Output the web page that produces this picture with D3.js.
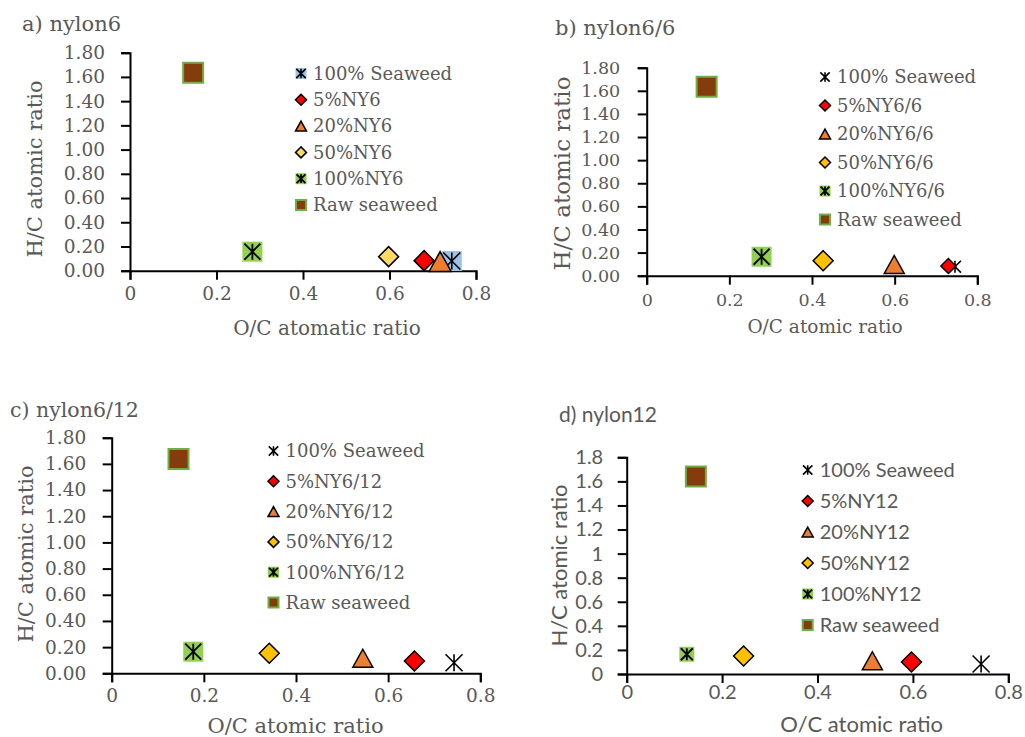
<!DOCTYPE html>
<html>
<head>
<meta charset="utf-8">
<script src="https://cdn.jsdelivr.net/npm/d3@7"></script>
<style>
  body { margin: 0; background: #fff; }
  svg { display: block; }
</style>
</head>
<body>
<div class="chart"></div>
<script>
// values (O/C on x, H/C on y)
const namesA = ['100% Seaweed', '5%NY6', '20%NY6', '50%NY6', '100%NY6', 'Raw seaweed'];
const ocA = [0.744, 0.680, 0.717, 0.598, 0.283, 0.146];
const hcA = [0.080, 0.083, 0.076, 0.116, 0.157, 1.635];

const namesB = ['100% Seaweed', '5%NY6/6', '20%NY6/6', '50%NY6/6', '100%NY6/6', 'Raw seaweed'];
const ocB = [0.746, 0.730, 0.599, 0.427, 0.278, 0.145];
const hcB = [0.078, 0.084, 0.097, 0.130, 0.164, 1.635];

const namesC = ['100% Seaweed', '5%NY6/12', '20%NY6/12', '50%NY6/12', '100%NY6/12', 'Raw seaweed'];
const ocC = [0.743, 0.657, 0.545, 0.342, 0.177, 0.145];
const hcC = [0.081, 0.094, 0.115, 0.153, 0.165, 1.637];

const namesD = ['100% Seaweed', '5%NY12', '20%NY12', '50%NY12', '100%NY12', 'Raw seaweed'];
const ocD = [0.743, 0.597, 0.515, 0.245, 0.126, 0.145];
const hcD = [0.083, 0.100, 0.110, 0.150, 0.164, 1.640];

const xTicks = [0, 0.2, 0.4, 0.6, 0.8];
const yTicks = [0, 0.2, 0.4, 0.6, 0.8, 1.0, 1.2, 1.4, 1.6, 1.8];

const shapes = ['star', 'diamond', 'triangle', 'diamond', 'starSquare', 'square'];
const textColor = '#595959';
const serif = "'DejaVu Serif', serif";
const sans = "Lato, 'Open Sans', sans-serif";

const svg = d3.select('.chart')
    .append('svg')
    .attr('width', 1025)
    .attr('height', 737);

function markerPath(shape, s) {
    const h = s / 2;
    const p = d3.path();
    if (shape == 'diamond') {
        p.moveTo(0, -h); p.lineTo(h, 0); p.lineTo(0, h); p.lineTo(-h, 0); p.closePath();
    }
    else if (shape == 'triangle') {
        const t = s * 0.45;
        p.moveTo(0, -t); p.lineTo(h, t); p.lineTo(-h, t); p.closePath();
    }
    else {
        p.rect(-h, -h, s, s);
    }
    return p.toString();
}

function starPath(s) {
    const h = s / 2;
    return `M${-h},${-h}L${h},${h}M${h},${-h}L${-h},${h}M0,${-h}L0,${h}`;
}

function drawMarker(g, shape, s, fills) {
    if (shape == 'star') {
        if (fills.seaweedBg) {
            g.append('rect')
                .attr('x', -s / 2).attr('y', -s / 2)
                .attr('width', s).attr('height', s)
                .attr('fill', fills.seaweedBg);
        }
        g.append('path')
            .attr('d', starPath(s * 0.85))
            .attr('stroke', '#000')
            .attr('stroke-width', 1.6)
            .attr('fill', 'none');
    }
    else if (shape == 'starSquare') {
        g.append('rect')
            .attr('x', -s / 2).attr('y', -s / 2)
            .attr('width', s).attr('height', s)
            .attr('fill', '#92D050');
        g.append('path')
            .attr('d', starPath(s * 0.8))
            .attr('stroke', '#000')
            .attr('stroke-width', 1.8)
            .attr('fill', 'none');
    }
    else if (shape == 'square') {
        g.append('path')
            .attr('d', markerPath('square', s - 2))
            .attr('fill', '#843C0C')
            .attr('stroke', '#70AD47')
            .attr('stroke-width', 2);
    }
    else {
        const fill = shape == 'triangle' ? '#ED7D31' : (fills.diamond[g.datum()] || '#FF0000');
        g.append('path')
            .attr('d', markerPath(shape, s))
            .attr('fill', fill)
            .attr('stroke', '#000')
            .attr('stroke-width', 1.5);
    }
}

function drawPanel(cfg) {
    const x = d3.scaleLinear().domain([0, 0.8]).range([cfg.x0, cfg.x1]);
    const y = d3.scaleLinear().domain([0, 1.8]).range([cfg.y0, cfg.y1]);
    const panel = svg.append('g')
        .attr('font-family', cfg.font)
        .attr('fill', textColor);

    const xAxis = panel.append('g')
        .attr('transform', `translate(0, ${cfg.y0})`)
        .call(d3.axisBottom(x).tickValues(xTicks).tickSize(9).tickFormat(d3.format('')));
    const yAxis = panel.append('g')
        .attr('transform', `translate(${cfg.x0}, 0)`)
        .call(d3.axisLeft(y).tickValues(yTicks).tickSize(9).tickPadding(cfg.yPad).tickFormat(cfg.yFmt));

    [xAxis, yAxis].forEach(ax => {
        ax.attr('font-family', null).attr('font-size', null);
        ax.select('.domain').attr('stroke', '#000').attr('stroke-width', 2);
        ax.selectAll('.tick line').attr('stroke', '#000').attr('stroke-width', 2);
        ax.selectAll('.tick text')
            .attr('fill', textColor)
            .attr('font-size', cfg.tickSize);
    });
    xAxis.selectAll('.tick text').attr('dy', null).attr('y', cfg.xLabelY);

    panel.append('text')
        .attr('x', cfg.titleX)
        .attr('y', cfg.titleY)
        .attr('font-size', cfg.titleSize)
        .text(cfg.title);

    panel.append('text')
        .attr('x', cfg.xTitleX)
        .attr('y', cfg.xTitleY)
        .attr('text-anchor', 'middle')
        .attr('font-size', cfg.xTitleSize)
        .text(cfg.xTitle);

    panel.append('text')
        .attr('transform', `translate(${cfg.yTitleX}, ${cfg.yTitleY}) rotate(-90)`)
        .attr('text-anchor', 'middle')
        .attr('font-size', cfg.yTitleSize)
        .text('H/C atomic ratio');

    // points, in series order so later ones sit on top
    cfg.names.forEach((name, i) => {
        const g = panel.append('g')
            .datum(i)
            .attr('transform', `translate(${x(cfg.oc[i])}, ${y(cfg.hc[i])})`);
        drawMarker(g, shapes[i], cfg.sizes[i], cfg.fills);
    });

    // legend
    cfg.names.forEach((name, i) => {
        const ly = cfg.legY + i * cfg.legStep;
        const g = panel.append('g')
            .datum(i)
            .attr('transform', `translate(${cfg.legX}, ${ly})`);
        drawMarker(g, shapes[i], shapes[i] == 'square' ? 12 : 11, cfg.fills);
        panel.append('text')
            .attr('x', cfg.legX + 12)
            .attr('y', ly)
            .attr('dy', '0.35em')
            .attr('font-size', cfg.legSize)
            .text(name);
    });
}

const fmt2 = d3.format('.2f');

drawPanel({
    title: 'a) nylon6', names: namesA, oc: ocA, hc: hcA, font: serif,
    x0: 130, x1: 476, y0: 270.7, y1: 52.7,
    yFmt: fmt2, yPad: 16, xLabelY: 29, tickSize: 18.5,
    titleX: 22, titleY: 31, titleSize: 21,
    xTitle: 'O/C atomatic ratio', xTitleX: 327, xTitleY: 335, xTitleSize: 20,
    yTitleX: 42, yTitleY: 169, yTitleSize: 21,
    sizes: [20, 20, 22, 20, 20, 22],
    fills: {seaweedBg: '#9DC3E6', diamond: {1: '#FF0000', 3: '#FFD966'}},
    legX: 301, legY: 73.5, legStep: 26.3, legSize: 18
});

drawPanel({
    title: 'b) nylon6/6', names: namesB, oc: ocB, hc: hcB, font: serif,
    x0: 646.7, x1: 977.3, y0: 275.7, y1: 67.7,
    yFmt: fmt2, yPad: 17.5, xLabelY: 30, tickSize: 17.5,
    titleX: 555, titleY: 34.5, titleSize: 21,
    xTitle: 'O/C atomic ratio', xTitleX: 825, xTitleY: 333, xTitleSize: 18.5,
    yTitleX: 570, yTitleY: 173.5, yTitleSize: 23,
    sizes: [14, 15, 20, 20, 20, 22],
    fills: {diamond: {1: '#FF0000', 3: '#FFC000'}},
    legX: 825, legY: 77, legStep: 28.5, legSize: 18
});

drawPanel({
    title: 'c) nylon6/12', names: namesC, oc: ocC, hc: hcC, font: serif,
    x0: 111.7, x1: 480.3, y0: 673.3, y1: 437.7,
    yFmt: fmt2, yPad: 16.5, xLabelY: 29, tickSize: 18.5,
    titleX: 10, titleY: 417, titleSize: 20.5,
    xTitle: 'O/C atomic ratio', xTitleX: 295.5, xTitleY: 733, xTitleSize: 21,
    yTitleX: 33, yTitleY: 554, yTitleSize: 21,
    sizes: [20, 20, 20, 20, 20, 22],
    fills: {diamond: {1: '#FF0000', 3: '#FFC000'}},
    legX: 273.5, legY: 451, legStep: 30.3, legSize: 18
});

drawPanel({
    title: 'd) nylon12', names: namesD, oc: ocD, hc: hcD, font: sans,
    x0: 626.7, x1: 1008.3, y0: 674, y1: 457.3,
    yFmt: d3.format(''), yPad: 14.5, xLabelY: 25, tickSize: 20,
    titleX: 559, titleY: 421.5, titleSize: 21,
    xTitle: 'O/C atomic ratio', xTitleX: 861.7, xTitleY: 731.5, xTitleSize: 22,
    yTitleX: 567, yTitleY: 565.5, yTitleSize: 22,
    sizes: [20, 20, 20, 20, 15, 22],
    fills: {diamond: {1: '#FF0000', 3: '#FFC000'}},
    legX: 807.7, legY: 470, legStep: 31, legSize: 20
});
</script>
</body>
</html>
